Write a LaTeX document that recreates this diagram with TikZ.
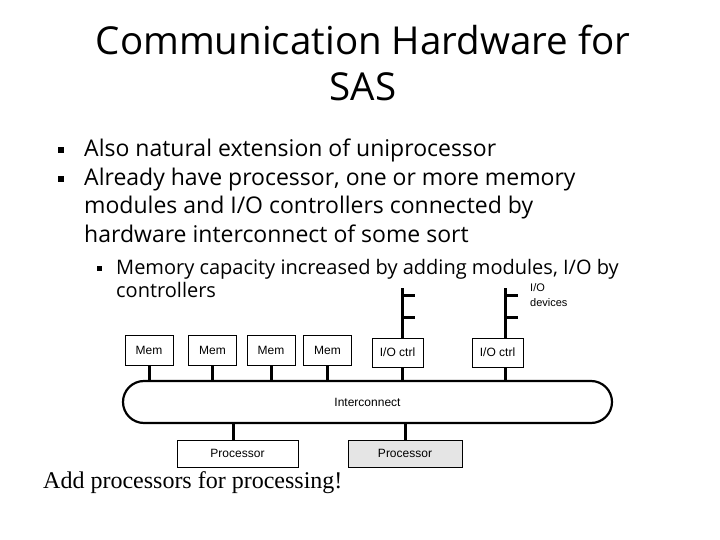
\documentclass[tikz,border=0pt]{standalone}
\usepackage{fontspec}
\setmainfont{Liberation Serif}
\newfontfamily\slidefont{Open Sans}
\newfontfamily\figfont{Liberation Sans}
\usetikzlibrary{positioning}

\begin{document}
\begin{tikzpicture}[
  x=1pt, y=-1pt,
  heading/.style={font=\slidefont\fontsize{38.5}{47}\selectfont, inner sep=0pt},
  bullettext/.style={font=\slidefont\fontsize{23}{28}\selectfont, inner sep=0pt},
  subtext/.style={font=\slidefont\fontsize{20}{23}\selectfont, inner sep=0pt},
  sqbullet/.style={fill=black, inner sep=0pt, minimum size=6pt},
  subbullet/.style={sqbullet, minimum size=5pt},
  membox/.style={draw, line width=0.8pt, fill=white, inner sep=0pt,
                 font=\figfont\fontsize{12}{14}\selectfont,
                 minimum width=48pt, minimum height=30pt},
  ctrlbox/.style={membox, minimum width=51pt, minimum height=29pt},
  procbox/.style={membox, minimum height=27pt},
  bus/.style={draw, line width=2.2pt, rounded corners=21pt, inner sep=0pt,
              font=\figfont\fontsize{12}{14}\selectfont,
              minimum width=489pt, minimum height=42pt},
  wire/.style={line width=3pt},
  note/.style={font=\figfont\fontsize{11}{15}\selectfont, align=left, inner sep=0pt},
  remark/.style={font=\rmfamily\fontsize{24}{28}\selectfont, inner sep=0pt}
]
\path[fill=white] (0,0) rectangle (720,540);
\useasboundingbox (0,0) rectangle (720,540);

% Slide title
\node[heading, anchor=base] (title1) at (363,55) {Communication Hardware for};
\node[heading, anchor=base] (title2) at (363,101) {SAS};

% Bullets
\node[sqbullet] (sq1) at (61,150) {};
\node[bullettext, anchor=base west] (also) at (84,157)
  {Also natural extension of uniprocessor};
\node[sqbullet] (sq2) at (61,179) {};
\node[bullettext, anchor=base west] (ready1) at (84,186)
  {Already have processor, one or more memory};
\node[bullettext, anchor=base west] (ready2) at (84,214)
  {modules and I/O controllers connected by};
\node[bullettext, anchor=base west] (ready3) at (84,243)
  {hardware interconnect of some sort};
\node[subbullet] (sq3) at (99,268) {};
\node[subtext, anchor=base west] (sub1) at (116,274)
  {Memory capacity increased by adding modules, I/O by};
\node[subtext, anchor=base west] (sub2) at (116,297) {controllers};

% Memory modules and I/O controllers
\foreach \x [count=\i] in {149,212.5,271,327.5}
  \node[membox] (mem\i) at (\x,350) {Mem};
\node[ctrlbox] (ctrl1) at (397.5,352.5) {I/O ctrl};
\node[ctrlbox] (ctrl2) at (497.5,352.5) {I/O ctrl};

% Interconnect and processors
\node[bus] (net) at (367.5,402) {Interconnect};
\node[procbox, minimum width=121pt] (proc1) at (237.5,453.5) {Processor};
\node[procbox, minimum width=114pt, fill=gray!20] (proc2) at (405,453.5) {Processor};

\foreach \i in {1,...,4}
  \draw[wire] (mem\i.south) -- (mem\i.south |- net.north);

% I/O device lines
\coordinate (dev1) at (402,288);
\coordinate (dev2) at (505,288);
\foreach \d/\c in {dev1/ctrl1,dev2/ctrl2} {
  \draw[wire] (\d) -- (\d |- \c.north);
  \draw[wire] (\d |- \c.south) -- (\d |- net.north);
  \draw[wire] ([yshift=-7pt]\d) -- ++(13,0);
  \draw[wire] ([yshift=-29pt]\d) -- ++(13,0);
}
\node[note, anchor=west] (devices) at (530,295.5) {I/O\\devices};

\draw[wire] ([xshift=-4.5pt]proc1.north) -- ([xshift=-4.5pt]proc1.north |- net.south);
\draw[wire] (proc2.north) -- (proc2.north |- net.south);

\node[remark, anchor=base west] (addproc) at (43,488) {Add processors for processing!};

\end{tikzpicture}
\end{document}
